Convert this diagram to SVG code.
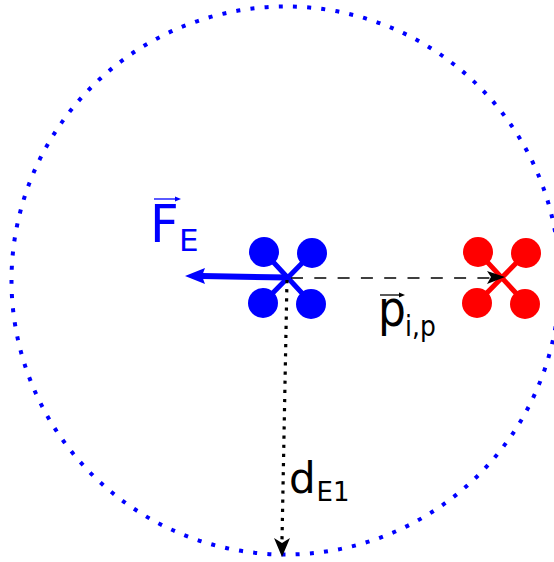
<svg xmlns="http://www.w3.org/2000/svg" width="554" height="562" viewBox="0 0 554 562">
<style>
text{font-family:"DejaVu Sans",sans-serif}
.b{fill:#0000ff}.r{fill:#ff0000}
.bl{stroke:#0000ff;stroke-width:5;fill:none}.rl{stroke:#ff0000;stroke-width:5;fill:none}
.k{fill:#000}
</style>
<defs>
<g id="quad"><circle cx="-24" cy="-26" r="15"/><circle cx="24" cy="-25" r="15"/><circle cx="-25" cy="25" r="15"/><circle cx="23" cy="26" r="15"/></g>
</defs>
<g id="boundary"><circle cx="285.500" cy="280.500" r="274" fill="none" stroke="#0000ff" stroke-width="4" stroke-dasharray="4 10.228" stroke-dashoffset="-3.400"/></g>
<g id="drone-blue">
<use href="#quad" x="288" y="278" class="b"/>
<path d="M264 252L312 304M312 253L263 303" class="bl"/>
</g>
<g id="drone-red">
<use href="#quad" x="502" y="278" class="r"/>
<path d="M478 252L526 304M526 253L477 303" class="rl"/>
</g>
<g id="connectors">
<path d="M288 277.500L202 276" fill="none" stroke="#0000ff" stroke-width="6"/>
<path d="M185 276L205 268L202 276L205 284Z" class="b"/>
<path d="M288 278H490" fill="none" stroke="#000" stroke-width="1.600" stroke-dasharray="12 11.300" stroke-dashoffset="-3"/>
<path d="M487 271L505 277L487 284L491 277Z" class="k"/>
<path d="M287 279L282 540" fill="none" stroke="#000" stroke-width="3.200" stroke-dasharray="3.200 5.950" stroke-dashoffset="-1"/>
<path d="M274 538L282 543L290 538L282 557Z" class="k"/>
</g>
<g id="label-fe">
<text transform="translate(150 242) scale(1 1.020)" font-size="50" class="b">F</text>
<text x="179" y="251" font-size="31" class="b">E</text>
<path d="M154 199H177" stroke="#0000ff" stroke-width="1.300"/><path d="M175 196.500L181 199L175 201.500Z" class="b"/>
</g>
<g id="label-p">
<text transform="translate(378 325.500) scale(1 1.150)" font-size="44" class="k">p</text>
<text transform="translate(405 336) scale(1 1.150)" font-size="25" class="k">i,p</text>
<path d="M380 295H400" stroke="#000" stroke-width="1.300"/><path d="M399 292.500L405 295L399 297.500Z" class="k"/>
</g>
<g id="label-d">
<text x="289" y="493" font-size="42" class="k">d</text>
<text x="316.500" y="501" font-size="26" class="k">E1</text>
</g>
</svg>
